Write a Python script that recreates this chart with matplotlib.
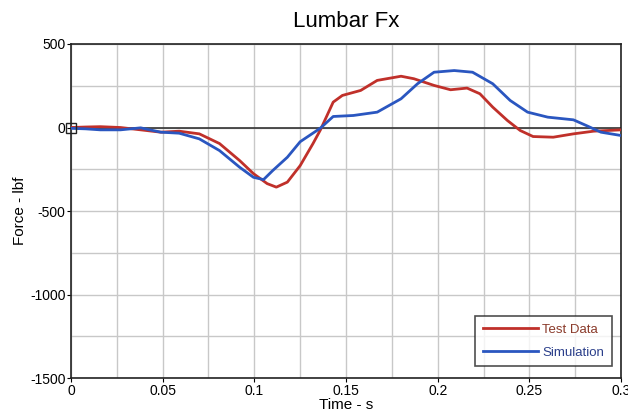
import matplotlib
matplotlib.use("Agg")
import matplotlib.pyplot as plt
from matplotlib.ticker import MultipleLocator

plt.rcParams['font.family'] = ['Liberation Sans', 'DejaVu Sans']
plt.rcParams['axes.unicode_minus'] = False

test_t = [0.0, 0.008, 0.016, 0.027, 0.038, 0.049, 0.059, 0.070, 0.081, 0.092, 0.0995,
          0.107, 0.112, 0.118, 0.125, 0.132, 0.136, 0.143, 0.148, 0.158, 0.167, 0.180,
          0.187, 0.198, 0.207, 0.216, 0.223, 0.230, 0.238, 0.245, 0.252, 0.263, 0.274,
          0.285, 0.300]
test_f = [0, 3, 5, 0, -14, -28, -22, -38, -96, -198, -276,
          -336, -357, -327, -228, -96, -15, 152, 192, 222, 282, 307,
          292, 252, 226, 236, 202, 122, 42, -18, -54, -58, -38,
          -22, -14]

sim_t = [0.0, 0.008, 0.016, 0.027, 0.038, 0.049, 0.059, 0.070, 0.081, 0.092, 0.0995,
         0.105, 0.110, 0.118, 0.125, 0.136, 0.143, 0.154, 0.167, 0.180, 0.189, 0.198,
         0.209, 0.219, 0.230, 0.2395, 0.249, 0.260, 0.274, 0.281, 0.289, 0.300]
sim_f = [-5, -8, -14, -14, -2, -28, -34, -68, -138, -238, -298,
         -312, -258, -178, -85, -4, 66, 72, 92, 172, 262, 331,
         341, 331, 262, 162, 92, 62, 46, 12, -28, -48]

fig = plt.figure(figsize=(6.28, 4.15), dpi=100)
ax = fig.add_axes([0.113, 0.089, 0.876, 0.805])

ax.set_xlim(0, 0.3)
ax.set_ylim(-1500, 500)
ax.xaxis.set_major_locator(MultipleLocator(0.05))
ax.xaxis.set_minor_locator(MultipleLocator(0.025))
ax.yaxis.set_major_locator(MultipleLocator(500))
ax.yaxis.set_minor_locator(MultipleLocator(250))
ax.grid(True, which='both', color='#c8c8c8', linewidth=1.0)
ax.set_axisbelow(True)

ax.axhline(0, color='#333333', linewidth=1.2, zorder=2)

ax.plot(test_t, test_f, color='#c0302a', linewidth=2.0, label='Test Data', zorder=3)
ax.plot(sim_t, sim_f, color='#2a56c0', linewidth=2.0, label='Simulation', zorder=4)
ax.plot([0], [0], marker='s', markersize=7, markerfacecolor='none',
        markeredgecolor='#222222', markeredgewidth=1.0, clip_on=False, zorder=5)

ax.set_xticks([0, 0.05, 0.1, 0.15, 0.2, 0.25, 0.3])
ax.set_xticklabels(['0', '0.05', '0.1', '0.15', '0.2', '0.25', '0.3'])
ax.set_yticks([-1500, -1000, -500, 0, 500])
ax.tick_params(which='major', direction='out', length=3, labelsize=10, pad=1)
ax.tick_params(which='minor', length=0)

for s in ax.spines.values():
    s.set_color('#222222')
    s.set_linewidth(1.2)

ax.set_title('Lumbar Fx', fontsize=16, pad=12)
ax.set_xlabel('Time - s', fontsize=11, labelpad=0)
ax.set_ylabel('Force - lbf', fontsize=11, labelpad=2)

leg = ax.legend(loc='lower right', fontsize=9.5, frameon=True, fancybox=False,
                handlelength=4.2, handletextpad=0.3, borderpad=0.6, labelspacing=0.8,
                bbox_to_anchor=(0.995, 0.015))
leg.get_frame().set_edgecolor('#222222')
leg.get_frame().set_linewidth(1.2)
leg.get_texts()[0].set_color('#8a3a2a')
leg.get_texts()[1].set_color('#2a3e8a')

fig.savefig('out.png', dpi=100)
